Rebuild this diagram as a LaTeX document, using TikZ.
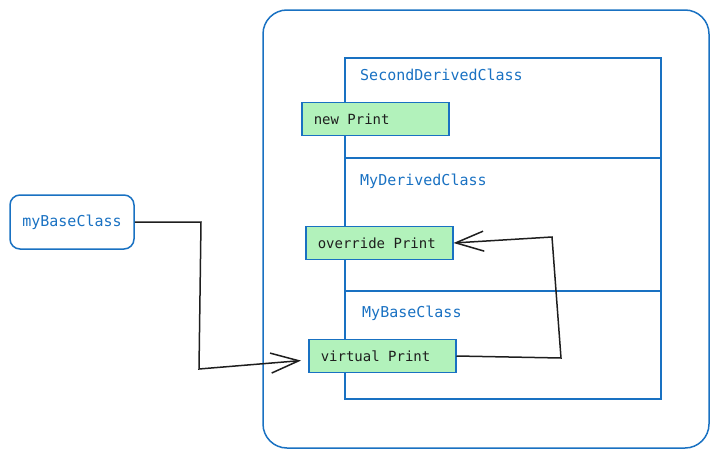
\documentclass[tikz,border=0pt]{standalone}
\usepackage{fontspec}
\setmonofont{DejaVu Sans Mono}
\usetikzlibrary{arrows.meta,positioning}
\definecolor{classblue}{HTML}{1971C2}
\definecolor{methodgreen}{HTML}{B2F2BB}
\definecolor{inkblack}{HTML}{1E1E1E}
\newcommand{\mtext}[1]{\makebox[123pt][l]{#1}}

\begin{document}
\begin{tikzpicture}[x=1pt, y=-1pt,
  frame/.style={draw=classblue, line width=1.5pt, rounded corners=24pt},
  section/.style={draw=classblue, line width=1.5pt, minimum width=316pt,
                  anchor=north west, inner sep=0pt},
  title/.style={font=\ttfamily\fontsize{15}{18}\selectfont, text=classblue,
                anchor=west, inner sep=0pt},
  method/.style={draw=classblue, line width=1.5pt, fill=methodgreen, text=inkblack,
                 font=\ttfamily\fontsize{14}{16}\selectfont, minimum height=33pt,
                 inner xsep=12pt, anchor=west},
  instance/.style={draw=classblue, line width=1.5pt, rounded corners=10pt,
                   minimum width=124pt, minimum height=54pt, text=classblue,
                   font=\ttfamily\fontsize{15}{18}\selectfont},
  arr/.style={-{Straight Barb[length=28pt,width=20pt]}, draw=inkblack, line width=1.5pt}
]
  \useasboundingbox (0,0) rectangle (718,458);

  % object and its class chain
  \draw[frame] (263,10) rectangle (709,448);
  \node[section, minimum height=100pt] (second) at (344,57) {};
  \node[section, minimum height=133pt] (derived) at (344,157) {};
  \node[section, minimum height=108pt] (base) at (344,290) {};

  \node[title] (secondname) at (360,75) {SecondDerivedClass};
  \node[title] (derivedname) at (360,181) {MyDerivedClass};
  \node[title] (basename) at (362,313) {MyBaseClass};

  \node[method] (newprint) at (301,119) {\mtext{new Print}};
  \node[method] (override) at (305,243) {\mtext{override Print}};
  \node[method] (virtual) at (308,356) {\mtext{virtual Print}};

  \node[instance] (mybase) at (72,222) {myBaseClass};

  % calls
  \coordinate (b1) at (201,222);
  \coordinate (b2) at (199,369);
  \coordinate (c1) at (561,358);
  \coordinate (c2) at (552,237);
  \draw[arr, shorten >=7pt] (mybase.east) -- (b1) -- (b2) -- ([yshift=-4pt]virtual.west);
  \draw[arr] (virtual.east) -- (c1) -- (c2) -- (override.east);
\end{tikzpicture}
\end{document}
